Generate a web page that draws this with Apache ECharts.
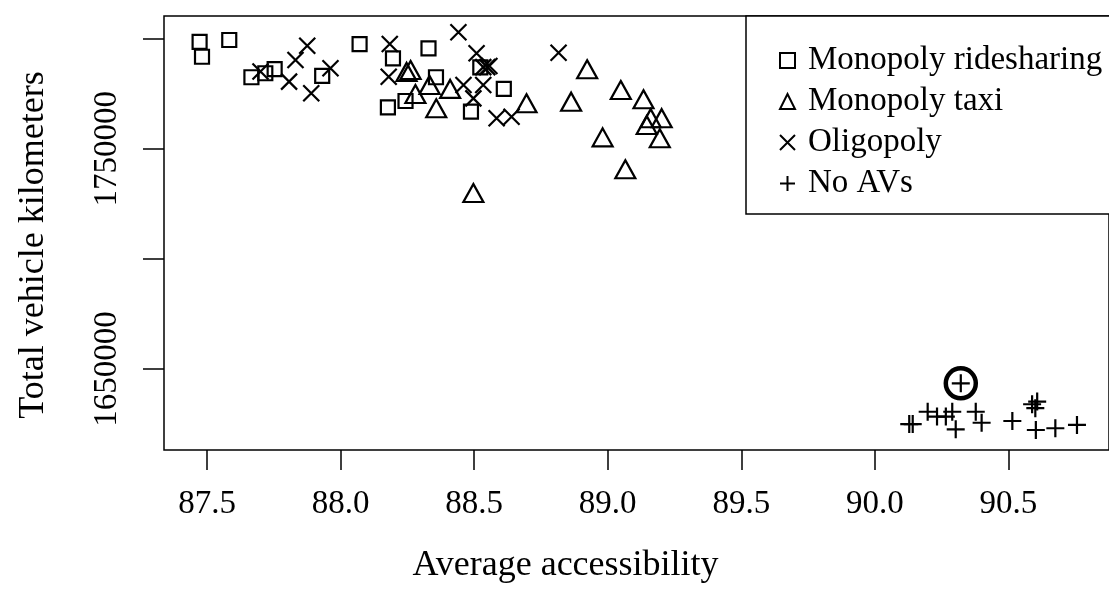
<!DOCTYPE html>
<html>
<head>
<meta charset="utf-8">
<script src="https://cdn.jsdelivr.net/npm/echarts@6/dist/echarts.min.js"></script>
<style>
html,body{margin:0;padding:0;background:#fff;}
#chart{width:1109px;height:608px;}
</style>
</head>
<body>
<div id="chart"></div>
<script>
// ---- data ----
const seriesNames = ['Monopoly ridesharing', 'Monopoly taxi', 'Oligopoly', 'No AVs'];

const ridesharing = [
  [87.472, 1798600], [87.481, 1791800], [87.583, 1799400], [87.666, 1782500],
  [87.718, 1784300], [87.753, 1786200], [87.931, 1783100], [88.071, 1797500],
  [88.196, 1791100], [88.329, 1795600], [88.357, 1782500], [88.177, 1768800],
  [88.243, 1771700], [88.611, 1777200], [88.488, 1766900], [88.523, 1787000]
];

const taxi = [
  [88.247, 1784900], [88.262, 1785800], [88.333, 1779000], [88.280, 1774900],
  [88.410, 1777200], [88.358, 1768400], [88.696, 1770700], [88.923, 1786100],
  [88.863, 1771400], [89.049, 1776700], [89.134, 1772500], [89.161, 1763900],
  [89.202, 1763900], [89.146, 1760800], [89.195, 1754800], [88.981, 1755200],
  [89.066, 1740700], [88.497, 1729900]
];

const oligopoly = [
  [87.700, 1785100], [87.875, 1796800], [87.831, 1790300], [87.807, 1780500],
  [87.890, 1775200], [87.962, 1786600], [88.184, 1797600], [88.180, 1782700],
  [88.441, 1802900], [88.509, 1793400], [88.460, 1779000], [88.534, 1779000],
  [88.497, 1772900], [88.584, 1763900], [88.640, 1764600], [88.534, 1787100],
  [88.549, 1787100], [88.557, 1787600], [88.816, 1793600]
];

const noAVs = [
  [90.129, 1625000], [90.142, 1625000], [90.198, 1630600], [90.233, 1628400],
  [90.266, 1628400], [90.290, 1630600], [90.303, 1622600], [90.322, 1643500],
  [90.378, 1630600], [90.400, 1625600], [90.515, 1626400], [90.589, 1634000],
  [90.601, 1632200], [90.608, 1635200], [90.603, 1622300], [90.676, 1623100],
  [90.757, 1624600]
];

const highlighted = [[90.322, 1643500]];

const xTicks = [87.5, 88.0, 88.5, 89.0, 89.5, 90.0, 90.5];
const yTicks = [1650000, 1700000, 1750000, 1800000];
const yTickLabels = [1650000, 1750000];

const xRange = [87.3387, 90.8769];
const yRange = [1613227, 1810308];

// ---- chart ----
const FONT = 'Liberation Serif';
const crossPath = 'path://M0,0L10,10M10,0L0,10';
const plusPath = 'path://M5,0L5,10M0,5L10,5';

const markStyle = { color: 'transparent', borderColor: '#000', borderWidth: 2.2, opacity: 1 };

const chart = echarts.init(document.getElementById('chart'), null, { renderer: 'canvas' });

chart.setOption({
  animation: false,
  backgroundColor: '#fff',
  grid: {
    left: 164, top: 16, width: 950, height: 434,
    show: true, borderColor: '#000', borderWidth: 1.5, backgroundColor: 'transparent'
  },
  xAxis: {
    type: 'value',
    min: xRange[0], max: xRange[1],
    name: 'Average accessibility',
    nameLocation: 'middle',
    nameGap: 98,
    nameTextStyle: { fontFamily: FONT, fontSize: 36, color: '#000', padding: [0, 142, 0, 0] },
    axisLine: { show: false },
    splitLine: { show: false },
    axisTick: { show: true, inside: false, length: 20, customValues: xTicks,
      lineStyle: { color: '#000', width: 1.5 } },
    axisLabel: { show: true, customValues: xTicks, margin: 38,
      fontFamily: FONT, fontSize: 33, color: '#000',
      formatter: v => Number(v).toFixed(1) }
  },
  yAxis: {
    type: 'value',
    min: yRange[0], max: yRange[1],
    name: 'Total vehicle kilometers',
    nameLocation: 'middle',
    nameGap: 112,
    nameTextStyle: { fontFamily: FONT, fontSize: 36, color: '#000', padding: [0, 24, 0, 0] },
    axisLine: { show: false },
    splitLine: { show: false },
    axisTick: { show: true, inside: false, length: 21, customValues: yTicks,
      lineStyle: { color: '#000', width: 1.5 } },
    axisLabel: { show: true, customValues: yTickLabels, rotate: 90, margin: 40,
      fontFamily: FONT, fontSize: 33, color: '#000',
      formatter: v => String(Math.round(v)) }
  },
  legend: {
    data: seriesNames,
    orient: 'vertical',
    left: 746, top: 16,
    padding: [28, 40, 14, 33],
    itemGap: 8,
    itemWidth: 15, itemHeight: 15,
    borderColor: '#000', borderWidth: 1.5, backgroundColor: '#fff',
    textStyle: { fontFamily: FONT, fontSize: 33, color: '#000', padding: [0, 0, 0, 8] }
  },
  series: [
    { name: seriesNames[0], type: 'scatter', data: ridesharing, symbol: 'rect',
      symbolSize: 14, itemStyle: markStyle },
    { name: seriesNames[1], type: 'scatter', data: taxi, symbol: 'triangle',
      symbolSize: [20, 18], itemStyle: markStyle },
    { name: seriesNames[2], type: 'scatter', data: oligopoly, symbol: crossPath,
      symbolSize: 16, itemStyle: markStyle },
    { name: seriesNames[3], type: 'scatter', data: noAVs, symbol: plusPath,
      symbolSize: 18, itemStyle: markStyle },
    { name: 'highlight', type: 'scatter', data: highlighted, symbol: 'circle',
      symbolSize: 30, itemStyle: { color: 'transparent', borderColor: '#000', borderWidth: 4.5, opacity: 1 },
      z: 5 }
  ]
});
</script>
</body>
</html>
